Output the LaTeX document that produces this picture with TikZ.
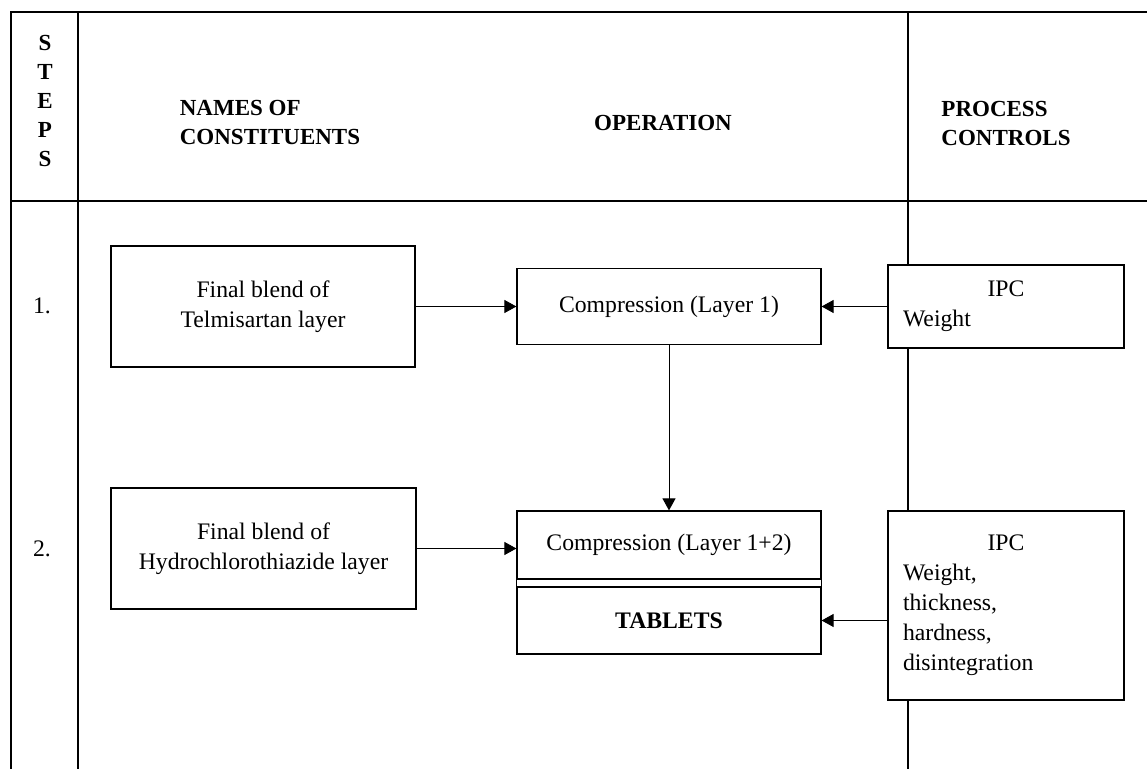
\documentclass[tikz,border=0pt]{standalone}
\usepackage{fontspec}
\setmainfont{Liberation Serif}
\usetikzlibrary{arrows.meta, shapes, positioning, calc}

\begin{document}
\begin{tikzpicture}[x=0.5pt, y=-0.5pt,
    font=\fontsize{11.85pt}{15pt}\selectfont,
    rule/.style={line width=0.6pt},
    box/.style={draw, fill=white, line width=0.6pt, align=center, inner sep=0pt},
    ipcbox/.style={box, align=left, text width=103pt, inner xsep=7.5pt},
    arr/.style={-{Triangle[length=6pt, width=6.5pt]}, line width=0.5pt},
    hdr/.style={font=\fontsize{11.5pt}{14.5pt}\selectfont\bfseries, align=left}]
  \useasboundingbox (0,0) rectangle (1147,769);

  % table frame
  \draw[rule] (10,12) -- (1147,12);
  \draw[rule] (10,201) -- (1147,201);
  \foreach \xx in {11, 78, 908}
    \draw[rule] (\xx,12) -- (\xx,769);

  % headings
  \foreach \lt [count=\i from 0] in {S, T, E, P, S}
    \node[hdr] (st\i) at (45, 43+29*\i) {\lt};
  \node[hdr] (names) at (270, 123) {NAMES OF\\CONSTITUENTS};
  \node[hdr] (oper)  at (663, 123) {OPERATION};
  \node[hdr] (ctrl)  at (1006, 124) {PROCESS\\CONTROLS};

  % step numbers
  \node (one) at (42, 306) {1.};
  \node (two) at (42, 549) {2.};

  % step 1
  \node[box, minimum width=152pt, minimum height=60.5pt] (blendA) at (263, 306.5)
    {Final blend of\\Telmisartan layer};
  \node[box, minimum width=152pt, minimum height=38pt] (compA) at (669, 306.5)
    {Compression (Layer 1)};
  \node[ipcbox, minimum height=41.5pt] (ipcA) at (1006, 306.5)
    {{\centering IPC\par}Weight};

  % step 2
  \node[box, minimum width=152.5pt, minimum height=60.5pt] (blendB) at (263.5, 548.5)
    {Final blend of\\Hydrochlorothiazide layer};
  \node[box, minimum width=152pt, minimum height=34pt] (compB) at (669, 545)
    {Compression (Layer 1+2)};
  \node[box, minimum width=152pt, minimum height=33.5pt] (tabl) at (669, 620.5)
    {\bfseries TABLETS};
  \draw[rule] (compB.south west) -- (tabl.north west);
  \draw[rule] (compB.south east) -- (tabl.north east);
  \node[ipcbox, minimum height=94.5pt] (ipcB) at (1006, 605.5)
    {{\centering IPC\par}Weight,\\thickness,\\hardness,\\disintegration};

  % connectors
  \draw[arr] (blendA.east) -- (compA.west);
  \draw[arr] (ipcA.west) -- (compA.east);
  \draw[arr] (compA.south) -- (compB.north);
  \draw[arr] (blendB.east) -- (blendB.east -| compB.west);
  \draw[arr] (ipcB.west |- tabl.east) -- (tabl.east);
\end{tikzpicture}
\end{document}
